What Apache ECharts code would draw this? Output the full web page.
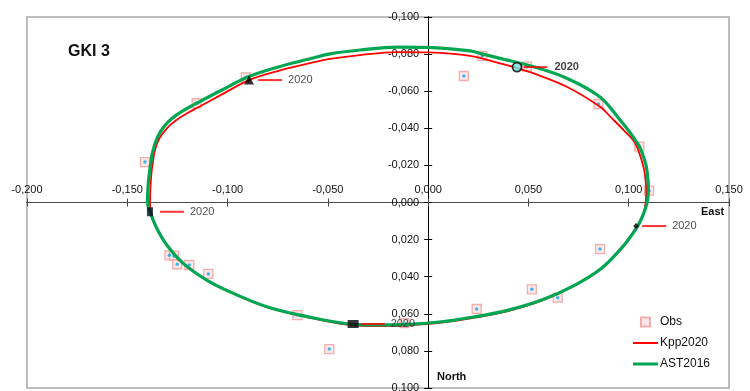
<!DOCTYPE html>
<html><head><meta charset="utf-8">
<script src="https://cdn.jsdelivr.net/npm/echarts@6/dist/echarts.min.js"></script>
<style>html,body{margin:0;padding:0;background:#fff}#c{width:750px;height:391px}</style>
</head><body><div id="c"></div>
<script>
// ---- data ----
const chartTitle = 'GKI 3';
const obsX = [-0.0909,-0.1154,-0.1412,0.0270,0.0178,0.0492,0.0849,0.1053,0.1101,-0.1290,-0.1267,-0.1251,-0.1191,-0.1096,-0.0652,-0.0493,-0.0118,0.0242,0.0517,0.0646,0.0857];
const obsY = [-0.0675,-0.0535,-0.0218,-0.0790,-0.0682,-0.0732,-0.0531,-0.0301,-0.0064,0.0285,0.0288,0.0333,0.0337,0.0385,0.0607,0.0790,0.0650,0.0574,0.0468,0.0513,0.0251];
const kppX = [-0.1387,-0.1384,-0.1378,-0.1372,-0.1367,-0.1356,-0.1339,-0.1314,-0.1284,-0.1244,-0.1200,-0.1149,-0.1033,-0.0893,-0.0738,-0.0574,-0.0489,-0.0340,-0.0155,0.0000,0.0209,0.0359,0.0443,0.0523,0.0691,0.0857,0.0917,0.0977,0.1027,0.1047,0.1064,0.1079,0.1086,0.1087,0.1084,0.1072,0.1042,0.0992,0.0962,0.0862,0.0727,0.0563,0.0398,0.0234,0.0068,-0.0099,-0.0265,-0.0374,-0.0639,-0.0805,-0.0971,-0.1104,-0.1221,-0.1303,-0.1353,-0.1382,-0.1387];
const kppY = [0.0003,-0.0094,-0.0175,-0.0218,-0.0256,-0.0305,-0.0348,-0.0385,-0.0420,-0.0453,-0.0482,-0.0512,-0.0580,-0.0660,-0.0712,-0.0755,-0.0774,-0.0795,-0.0811,-0.0809,-0.0790,-0.0750,-0.0725,-0.0697,-0.0624,-0.0516,-0.0453,-0.0388,-0.0329,-0.0283,-0.0229,-0.0164,-0.0094,-0.0046,0.0003,0.0067,0.0127,0.0208,0.0251,0.0359,0.0450,0.0531,0.0585,0.0621,0.0648,0.0662,0.0666,0.0662,0.0609,0.0563,0.0491,0.0418,0.0328,0.0229,0.0139,0.0051,0.0003];
const astX = [-0.1400,-0.1396,-0.1388,-0.1382,-0.1377,-0.1364,-0.1347,-0.1322,-0.1292,-0.1252,-0.1207,-0.1154,-0.1038,-0.0893,-0.0738,-0.0574,-0.0489,-0.0340,-0.0155,0.0000,0.0209,0.0269,0.0359,0.0525,0.0691,0.0857,0.0957,0.0997,0.1027,0.1057,0.1079,0.1089,0.1096,0.1098,0.1094,0.1081,0.1048,0.0997,0.0965,0.0866,0.0732,0.0566,0.0400,0.0234,0.0068,-0.0099,-0.0265,-0.0374,-0.0639,-0.0805,-0.0971,-0.1104,-0.1221,-0.1303,-0.1353,-0.1387,-0.1400];
const astY = [0.0003,-0.0094,-0.0175,-0.0218,-0.0256,-0.0310,-0.0358,-0.0402,-0.0439,-0.0474,-0.0504,-0.0535,-0.0601,-0.0679,-0.0733,-0.0779,-0.0801,-0.0822,-0.0838,-0.0836,-0.0817,-0.0801,-0.0777,-0.0732,-0.0670,-0.0569,-0.0445,-0.0391,-0.0345,-0.0294,-0.0229,-0.0186,-0.0121,-0.0067,-0.0013,0.0040,0.0121,0.0202,0.0245,0.0353,0.0445,0.0526,0.0580,0.0616,0.0643,0.0657,0.0660,0.0657,0.0607,0.0562,0.0490,0.0418,0.0328,0.0229,0.0139,0.0050,0.0003];
const markX = [-0.0893, 0.0443, -0.1387, -0.0374, 0.1037];
const markY = [-0.0660, -0.0730, 0.0050, 0.0655, 0.0127];
const markText = ['2020', '2020', '2020', '2020', '2020'];
const xMin = -0.2, xMax = 0.15, xStep = 0.05;
const yMin = -0.1, yMax = 0.1, yStep = 0.02;
const xName = 'East', yName = 'North';
const seriesNames = ['Obs', 'Kpp2020', 'AST2016'];

// ---- chart ----
const zip = (a, b) => a.map((v, i) => [v, b[i]]);
const fmt = v => (Math.abs(v) < 1e-9 ? 0 : v).toFixed(3).replace('.', ',');
const FONT = 'Liberation Sans, Arial, sans-serif';
const RED = '#ff0000', GREEN = '#00a651';

const el = document.getElementById('c');
const chart = echarts.init(el, null, { renderer: 'canvas' });
const W = chart.getWidth(), H = chart.getHeight();
const G = { left: 27, right: 21, top: 17, bottom: 3 };
const plotW = W - G.left - G.right, plotH = H - G.top - G.bottom;
// pixel position of the zero lines inside the grid (y axis is inverted: yMin at top)
const zeroY = G.top + plotH * (0 - yMin) / (yMax - yMin);
const zeroX = G.left + plotW * (0 - xMin) / (xMax - xMin);

const markStyles = [
  { symbol: 'triangle', symbolSize: [10, 9], color: '#000', dist: 4, bold: false },
  { symbol: 'circle', symbolSize: 9, color: '#6fe3e3', border: '#000', dist: 1, bold: true },
  { symbol: 'rect', symbolSize: [6, 9], color: '#0b0b22', dist: 7, bold: false },
  { symbol: 'rect', symbolSize: [11, 8], color: '#050510', dist: 2, bold: false },
  { symbol: 'diamond', symbolSize: 6, color: '#000', dist: 3, bold: false }
];

const markData = markX.map((x, i) => {
  const s = markStyles[i];
  return {
    value: [x, markY[i]],
    symbol: s.symbol,
    symbolSize: s.symbolSize,
    itemStyle: { color: s.color, borderColor: s.border || s.color, borderWidth: s.border ? 1.8 : 0 },
    label: {
      show: true, position: 'right', distance: s.dist,
      formatter: '{l|}{' + (s.bold ? 'b' : 't') + '|' + markText[i] + '}'
    }
  };
});

function axisX(pos, offset, showLabel) {
  return {
    type: 'value', min: xMin, max: xMax, interval: xStep, position: pos, offset: offset,
    axisLine: { show: true, onZero: false, lineStyle: { color: '#4a4a4a', width: 1 } },
    axisTick: { show: true, length: 4, inside: false, lineStyle: { color: '#4a4a4a', width: 1 } },
    axisLabel: { show: showLabel, margin: 7, fontSize: 11, color: '#111', fontFamily: FONT, formatter: fmt },
    splitLine: { show: false }
  };
}
function axisY(pos, offset, showLabel) {
  return {
    type: 'value', min: yMin, max: yMax, interval: yStep, inverse: true, position: pos, offset: offset,
    axisLine: { show: true, onZero: false, lineStyle: { color: '#000', width: 1 } },
    axisTick: { show: true, length: 4, inside: false, lineStyle: { color: '#000', width: 1 } },
    axisLabel: { show: showLabel, margin: 9, fontSize: 11, color: '#111', fontFamily: FONT, formatter: fmt },
    splitLine: { show: false }
  };
}

chart.setOption({
  animation: false,
  backgroundColor: '#fff',
  title: { text: chartTitle, left: 68, top: 44, padding: 0,
    textStyle: { fontSize: 16, fontWeight: 'bold', color: '#111', fontFamily: FONT } },
  grid: { left: G.left, right: G.right, top: G.top, bottom: G.bottom, containLabel: false, outerBoundsMode: 'none',
    show: true, borderColor: '#a8a8a8', borderWidth: 1.5, backgroundColor: '#fff' },
  legend: {
    orient: 'vertical', left: 633, top: 316, padding: 0, itemGap: 9,
    itemWidth: 25, itemHeight: 9,
    data: [
      { name: seriesNames[0], icon: 'path://M0,0L10,0L10,10L0,10Z' },
      { name: seriesNames[1], icon: 'path://M0,0L25,0L25,2L0,2Z' },
      { name: seriesNames[2], icon: 'path://M0,0L25,0L25,3L0,3Z' }
    ],
    textStyle: { fontSize: 12, color: '#111', fontFamily: FONT, padding: [0, 0, 0, -3] }
  },
  xAxis: [
    axisX('top', -(zeroY - G.top), true),
    axisX('bottom', -(H - G.bottom - zeroY), false)
  ],
  yAxis: [
    axisY('left', -(zeroX - G.left), true),
    axisY('right', -(W - G.right - zeroX), false)
  ],
  graphic: [
    { type: 'text', left: 701, top: 206, style: { text: xName, font: 'bold 11px ' + FONT, fill: '#111' } },
    { type: 'text', left: 437, top: 371, style: { text: yName, font: 'bold 11px ' + FONT, fill: '#111' } }
  ],
  series: [
    { name: seriesNames[0], type: 'scatter', data: zip(obsX, obsY), symbol: 'rect', symbolSize: 9,
      itemStyle: { color: '#fde4e4', borderColor: '#f29a9a', borderWidth: 1.3 }, z: 2, silent: true },
    { name: seriesNames[0], type: 'scatter', data: zip(obsX, obsY), symbol: 'circle', symbolSize: 3.5,
      itemStyle: { color: '#14a5ea' }, z: 3, silent: true },
    { name: seriesNames[1], type: 'line', data: zip(kppX, kppY), symbol: 'none', smooth: 0.35,
      lineStyle: { color: RED, width: 1.8 }, itemStyle: { color: RED }, z: 4 },
    { name: seriesNames[2], type: 'line', data: zip(astX, astY), symbol: 'none', smooth: 0.35,
      lineStyle: { color: GREEN, width: 3.2 }, itemStyle: { color: GREEN }, z: 5 },
    { name: 'marks', type: 'scatter', data: markData, z: 10, silent: true,
      label: {
        rich: {
          l: { width: 24, height: 2, backgroundColor: RED, verticalAlign: 'middle' },
          t: { fontSize: 11, color: '#222', fontFamily: FONT, padding: [0, 0, 0, 6], verticalAlign: 'middle' },
          b: { fontSize: 11, fontWeight: 'bold', color: '#111', fontFamily: FONT, padding: [0, 0, 0, 7], verticalAlign: 'middle' }
        }
      } }
  ]
});
</script>
</body></html>
